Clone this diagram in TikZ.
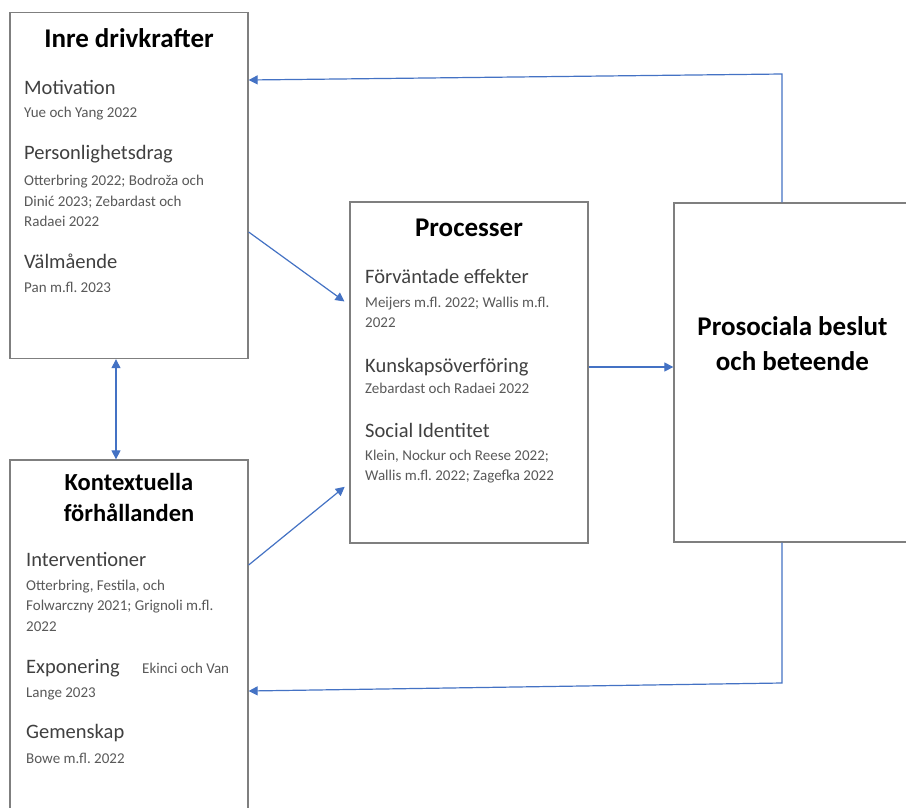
\documentclass[tikz,border=0pt]{standalone}
\usepackage{fontspec}
\setmainfont{Carlito}
\usetikzlibrary{arrows.meta}
\definecolor{arrblue}{HTML}{4472C4}
\definecolor{boxgray}{HTML}{7F7F7F}
\definecolor{subgray}{HTML}{404040}
\definecolor{refgray}{HTML}{595959}
\frenchspacing
\begin{document}
\begin{tikzpicture}[x=1pt,y=-1pt,
  box/.style={draw=boxgray, line width=1.3pt, fill=white, inner sep=0pt},
  ttl/.style={font=\fontsize{27}{32}\selectfont\bfseries, anchor=base, inner sep=0pt},
  ttlb/.style={font=\fontsize{24.5}{29}\selectfont\bfseries, anchor=base, inner sep=0pt},
  sub/.style={font=\fontsize{20.5}{24}\selectfont, text=subgray, anchor=base west, inner sep=0pt},
  ref/.style={font=\fontsize{15}{18}\selectfont, text=refgray, anchor=base west, inner sep=0pt},
  arr/.style={draw=arrblue, line width=1.2pt, -{Triangle[length=9pt,width=9pt]}},
  darr/.style={draw=arrblue, line width=1.2pt, {Triangle[length=9pt,width=9pt]}-{Triangle[length=9pt,width=9pt]}},
]
\useasboundingbox (0,0) rectangle (906,807);
\clip (0,0) rectangle (906,807);
\fill[white] (0,0) rectangle (906,807);

% boxes
\node[box, minimum width=238pt, minimum height=346pt] (A) at (129,185.5) {};
\node[box, minimum width=238pt, minimum height=380pt] (B) at (129,650) {};
\node[box, minimum width=238pt, minimum height=341pt] (C) at (469,372.5) {};
\node[box, minimum width=237pt, minimum height=339pt] (D) at (792.5,372.5) {};

% box A
\node[ttl] (At) at (129,47) {Inre drivkrafter};
\node[sub] (A1) at (24,94) {Motivation};
\node[ref] (A1r) at (24,117) {Yue och Yang 2022};
\node[sub] (A2) at (24,159) {Personlighetsdrag};
\node[ref] (A2r1) at (24,185) {Otterbring 2022; Bodroža och};
\node[ref] (A2r2) at (24,206) {Dinić 2023; Zebardast och};
\node[ref] (A2r3) at (24,226) {Radaei 2022};
\node[sub] (A3) at (24,268) {Välmående};
\node[ref] (A3r) at (24,292) {Pan m.fl. 2023};

% box B
\node[ttlb] (Bt1) at (129,490) {Kontextuella};
\node[ttlb] (Bt2) at (129,521) {förhållanden};
\node[sub] (B1) at (26,566) {Interventioner};
\node[ref] (B1r1) at (26,590) {Otterbring, Festila, och};
\node[ref] (B1r2) at (26,610) {Folwarczny 2021; Grignoli m.fl.};
\node[ref] (B1r3) at (26,631) {2022};
\node[sub] (B2) at (26,673) {Exponering};
\node[ref] (B2r1) at (142,673) {Ekinci och Van};
\node[ref] (B2r2) at (26,697) {Lange 2023};
\node[sub] (B3) at (26,738) {Gemenskap};
\node[ref] (B3r) at (26,763) {Bowe m.fl. 2022};

% box C
\node[ttl] (Ct) at (469,236) {Processer};
\node[sub] (C1) at (365,283) {Förväntade effekter};
\node[ref] (C1r1) at (365,307) {Meijers m.fl. 2022; Wallis m.fl.};
\node[ref] (C1r2) at (365,327) {2022};
\node[sub] (C2) at (365,372) {Kunskapsöverföring};
\node[ref] (C2r) at (365,393) {Zebardast och Radaei 2022};
\node[sub] (C3) at (365,437) {Social Identitet};
\node[ref] (C3r1) at (365,460) {Klein, Nockur och Reese 2022;};
\node[ref] (C3r2) at (365,480) {Wallis m.fl. 2022; Zagefka 2022};

% box D
\node[ttl] (Dt1) at (792.5,335) {Prosociala beslut};
\node[ttl] (Dt2) at (792.5,370) {och beteende};

% helper coordinates
\coordinate (vx) at (782,0);
\coordinate (topr) at (782,74);
\coordinate (topl) at (0,80);
\coordinate (botr) at (782,683);
\coordinate (botl) at (0,691);
\coordinate (ya1) at (0,232);
\coordinate (yc1) at (0,305);
\coordinate (yb1) at (0,565);
\coordinate (yc2) at (0,483);
\coordinate (ycd) at (0,367);
\coordinate (xab) at (116,0);

% connectors
\draw[arr] (D.north -| vx) -- (topr) -- (A.east |- topl);
\draw[arr] (D.south -| vx) -- (botr) -- (B.east |- botl);
\draw[arr, shorten >=6pt] (A.east |- ya1) -- (C.west |- yc1);
\draw[arr, shorten >=6pt] (B.east |- yb1) -- (C.west |- yc2);
\draw[arr] (C.east |- ycd) -- (D.west |- ycd);
\draw[darr] (A.south -| xab) -- (B.north -| xab);
\end{tikzpicture}
\end{document}
